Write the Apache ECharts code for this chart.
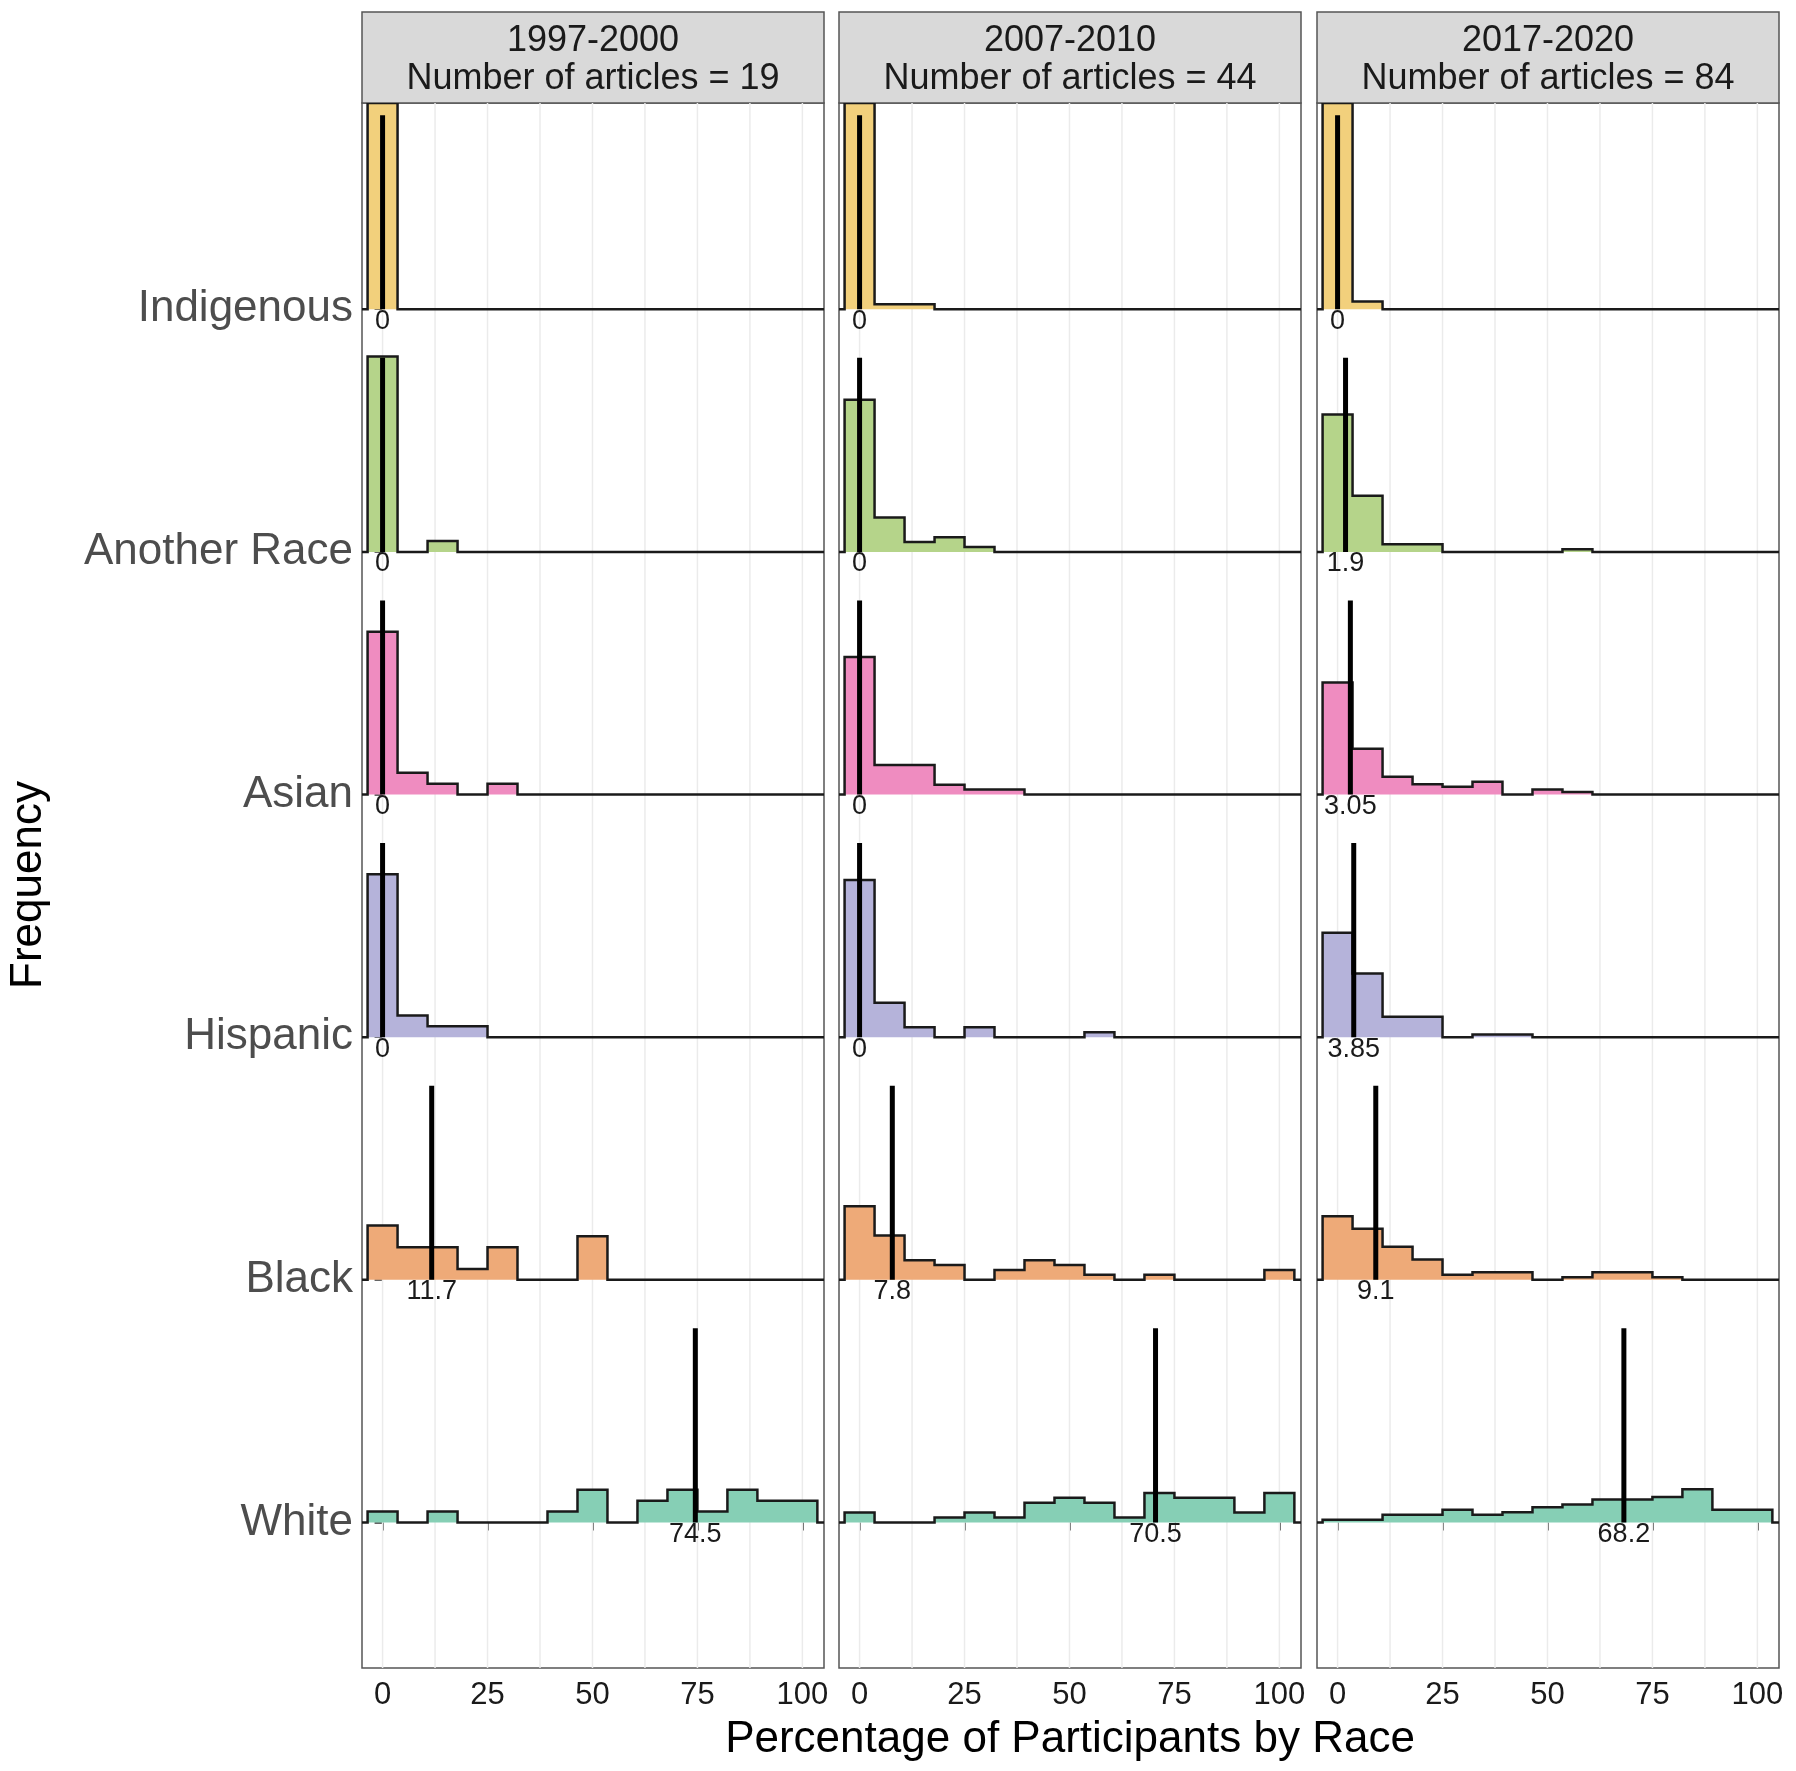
<!DOCTYPE html>
<html>
<head>
<meta charset="utf-8">
<script src="https://cdn.jsdelivr.net/npm/echarts@6/dist/echarts.min.js"></script>
<style>
html, body { margin: 0; padding: 0; background: #fff; }
#eChart { width: 1796px; height: 1771px; }
</style>
</head>
<body>
<div id="eChart"></div>
<script>
// ridge order from bottom to top
const races = ['White', 'Black', 'Hispanic', 'Asian', 'Another Race', 'Indigenous'];
const periods = ['1997-2000', '2007-2010', '2017-2020'];
const articleCounts = [19, 44, 84];

// histogram bins (percentage of participants), width 100/14
const binCenters = [0, 7.14, 14.29, 21.43, 28.57, 35.71, 42.86, 50, 57.14, 64.29, 71.43, 78.57, 85.71, 92.86, 100];
const binWidth = 7.14;

// number of articles per bin
const white1997 = [1, 0, 1, 0, 0, 0, 1, 3, 0, 2, 3, 1, 3, 2, 2];
const black1997 = [5, 3, 3, 1, 3, 0, 0, 4, 0, 0, 0, 0, 0, 0, 0];
const hispanic1997 = [15, 2, 1, 1, 0, 0, 0, 0, 0, 0, 0, 0, 0, 0, 0];
const asian1997 = [15, 2, 1, 0, 1, 0, 0, 0, 0, 0, 0, 0, 0, 0, 0];
const another1997 = [18, 0, 1, 0, 0, 0, 0, 0, 0, 0, 0, 0, 0, 0, 0];
const indigenous1997 = [19, 0, 0, 0, 0, 0, 0, 0, 0, 0, 0, 0, 0, 0, 0];

const white2007 = [2, 0, 0, 1, 2, 1, 4, 5, 4, 1, 6, 5, 5, 2, 6];
const black2007 = [15, 9, 4, 3, 0, 2, 4, 3, 1, 0, 1, 0, 0, 0, 2];
const hispanic2007 = [32, 7, 2, 0, 2, 0, 0, 0, 1, 0, 0, 0, 0, 0, 0];
const asian2007 = [28, 6, 6, 2, 1, 1, 0, 0, 0, 0, 0, 0, 0, 0, 0];
const another2007 = [31, 7, 2, 3, 1, 0, 0, 0, 0, 0, 0, 0, 0, 0, 0];
const indigenous2007 = [42, 1, 1, 0, 0, 0, 0, 0, 0, 0, 0, 0, 0, 0, 0];

const white2017 = [1, 1, 3, 3, 5, 3, 4, 6, 7, 9, 9, 10, 13, 5, 5];
const black2017 = [25, 20, 13, 8, 2, 3, 3, 0, 1, 3, 3, 1, 0, 0, 0];
const hispanic2017 = [41, 25, 8, 8, 0, 1, 1, 0, 0, 0, 0, 0, 0, 0, 0];
const asian2017 = [44, 18, 7, 4, 3, 5, 0, 2, 1, 0, 0, 0, 0, 0, 0];
const another2017 = [54, 22, 3, 3, 0, 0, 0, 0, 1, 0, 0, 0, 0, 0, 0];
const indigenous2017 = [81, 3, 0, 0, 0, 0, 0, 0, 0, 0, 0, 0, 0, 0, 0];

// medians (same race order)
const medians1997 = [74.5, 11.7, 0, 0, 0, 0];
const medians2007 = [70.5, 7.8, 0, 0, 0, 0];
const medians2017 = [68.2, 9.1, 3.85, 3.05, 1.9, 0];

const xTicks = [0, 25, 50, 75, 100];
const xGridValues = [0, 12.5, 25, 37.5, 50, 62.5, 75, 87.5, 100];
const yTicks = [0, 1, 2, 3, 4, 5];

const panelHists = [
  [white1997, black1997, hispanic1997, asian1997, another1997, indigenous1997],
  [white2007, black2007, hispanic2007, asian2007, another2007, indigenous2007],
  [white2017, black2017, hispanic2017, asian2017, another2017, indigenous2017]
];
const panelMedians = [medians1997, medians2007, medians2017];
const raceColors = ['#86CFB5', '#EEAA78', '#B5B3DA', '#EF8CC0', '#B5D48A', '#F2D07C'];

// layout
const fontFamily = '"Liberation Sans", Arial, sans-serif';
const panelLeft = [362, 839, 1317];
const panelWidth = 462;
const panelTop = 103;
const panelHeight = 1565;
const xMin = -4.9, xMax = 105.15;
const yMin = -0.6, yMax = 5.85;
const ridgeScale = 0.85;
const medianHeight = 0.8;

let chart = echarts.init(document.getElementById('eChart'));

function ridgeRenderer(p) {
  const maxC = Math.max.apply(null, panelHists[p].map(function (h) { return Math.max.apply(null, h); }));
  return function (params, api) {
    const r = api.value(0);
    const hist = panelHists[p][r];
    const half = binWidth / 2;
    const pts = [api.coord([xMin, r]), api.coord([binCenters[0] - half, r])];
    hist.forEach(function (c, k) {
      const y = r + c / maxC * ridgeScale;
      pts.push(api.coord([binCenters[k] - half, y]));
      pts.push(api.coord([binCenters[k] + half, y]));
    });
    pts.push(api.coord([binCenters[binCenters.length - 1] + half, r]));
    pts.push(api.coord([xMax, r]));
    const m = panelMedians[p][r];
    const mb = api.coord([m, r]);
    const mt = api.coord([m, r + medianHeight]);
    return {
      type: 'group',
      children: [
        { type: 'polygon', shape: { points: pts }, style: { fill: raceColors[r], stroke: null } },
        { type: 'polyline', shape: { points: pts }, style: { fill: null, stroke: '#1a1a1a', lineWidth: 2.5 } },
        { type: 'line', shape: { x1: mb[0], y1: mb[1], x2: mt[0], y2: mt[1] }, style: { stroke: '#000', lineWidth: 5 } },
        {
          type: 'text', x: mb[0], y: mb[1] + 12,
          style: {
            text: String(m), font: '27px ' + fontFamily, fill: '#1a1a1a',
            align: 'center', verticalAlign: 'middle', textAlign: 'center', textVerticalAlign: 'middle'
          }
        }
      ]
    };
  };
}

function gridLineRenderer(params, api) {
  const v = api.value(0);
  const a = api.coord([v, yMin]);
  const b = api.coord([v, yMax]);
  return {
    type: 'line',
    shape: { x1: a[0], y1: a[1], x2: b[0], y2: b[1] },
    style: { stroke: '#EBEBEB', lineWidth: 1.5 }
  };
}

let grids = [], xAxes = [], yAxes = [], series = [], graphics = [];
periods.forEach(function (period, i) {
  grids.push({
    left: panelLeft[i], top: panelTop, width: panelWidth, height: panelHeight,
    show: true, borderColor: '#555', borderWidth: 1.5, backgroundColor: '#fff'
  });
  xAxes.push({
    gridIndex: i, type: 'value', min: xMin, max: xMax,
    axisLine: { show: false },
    axisTick: { show: true, customValues: xTicks, length: 8, lineStyle: { color: '#333', width: 1.5 } },
    axisLabel: { customValues: xTicks, fontSize: 31, color: '#1a1a1a', margin: 12, fontFamily: fontFamily },
    splitLine: { show: false }
  });
  yAxes.push({
    gridIndex: i, type: 'value', min: yMin, max: yMax,
    axisLine: { show: false },
    axisTick: { show: i === 0, customValues: yTicks, length: 8, lineStyle: { color: '#333', width: 1.5 } },
    axisLabel: {
      show: i === 0, customValues: yTicks, fontSize: 44, color: '#4d4d4d', margin: 9, fontFamily: fontFamily,
      formatter: function (v) { return races[Math.round(v)]; }
    },
    splitLine: { show: false }
  });
  series.push({
    type: 'custom', xAxisIndex: i, yAxisIndex: i, z: 1, silent: true,
    data: xGridValues.map(function (v) { return [v]; }),
    renderItem: gridLineRenderer
  });
  series.push({
    type: 'custom', xAxisIndex: i, yAxisIndex: i, z: 2, clip: true, silent: true,
    data: [5, 4, 3, 2, 1, 0].map(function (r) { return [r]; }),
    renderItem: ridgeRenderer(i)
  });
  const cx = panelLeft[i] + panelWidth / 2;
  graphics.push({
    type: 'rect', shape: { x: panelLeft[i], y: 12, width: panelWidth, height: 91 },
    style: { fill: '#D9D9D9', stroke: '#555', lineWidth: 1.5 }
  });
  graphics.push({
    type: 'text', x: cx, y: 41,
    style: { text: period, font: '36px ' + fontFamily, fill: '#1a1a1a', align: 'center', verticalAlign: 'middle', textAlign: 'center', textVerticalAlign: 'middle' }
  });
  graphics.push({
    type: 'text', x: cx, y: 79,
    style: { text: 'Number of articles = ' + articleCounts[i], font: '36px ' + fontFamily, fill: '#1a1a1a', align: 'center', verticalAlign: 'middle', textAlign: 'center', textVerticalAlign: 'middle' }
  });
});

graphics.push({
  type: 'text', x: 1070, y: 1740,
  style: { text: 'Percentage of Participants by Race', font: '44px ' + fontFamily, fill: '#000', align: 'center', verticalAlign: 'middle', textAlign: 'center', textVerticalAlign: 'middle' }
});
graphics.push({
  type: 'text', x: 29, y: 885, rotation: Math.PI / 2,
  style: { text: 'Frequency', font: '44px ' + fontFamily, fill: '#000', align: 'center', verticalAlign: 'middle', textAlign: 'center', textVerticalAlign: 'middle' }
});

let option = {
  animation: false,
  backgroundColor: '#fff',
  grid: grids,
  xAxis: xAxes,
  yAxis: yAxes,
  series: series,
  graphic: graphics
};
chart.setOption(option);
</script>
</body>
</html>
